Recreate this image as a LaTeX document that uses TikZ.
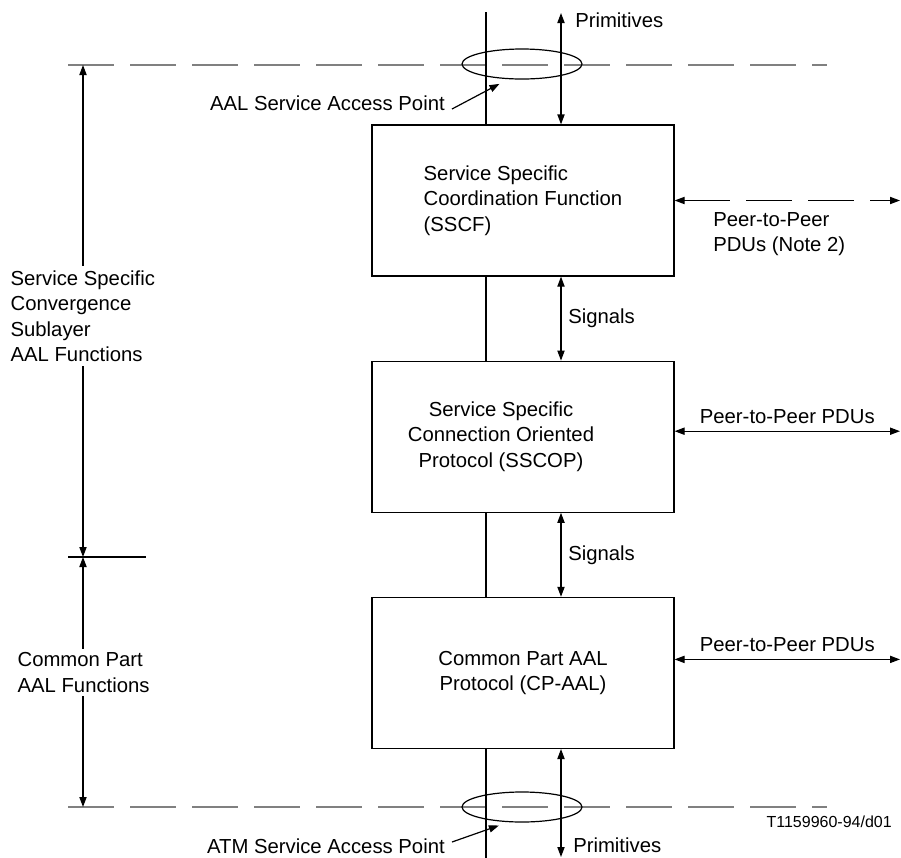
\documentclass[tikz,border=0pt]{standalone}
\usepackage{fontspec}
\setmainfont{Liberation Sans}
\usetikzlibrary{positioning, arrows.meta, shapes.geometric}

\begin{document}
\begin{tikzpicture}[x=0.5pt, y=-0.5pt, line width=0.6pt, node distance=42pt,
    >={Triangle[length=5pt, width=3.6pt]},
    every node/.style={font=\fontsize{10.15pt}{12.75pt}\selectfont},
    layerbox/.style={draw, minimum width=151pt, minimum height=75.5pt, inner sep=0pt},
    sapring/.style={draw, ellipse, minimum width=60pt, minimum height=15pt, inner sep=0pt},
    boundary/.style={draw=gray, line width=0.75pt, dash pattern=on 23pt off 8pt},
    sidelabel/.style={align=left, fill=white, inner xsep=0pt, inner ysep=2pt}]

    \useasboundingbox (0,0) rectangle (901,858);

    % 1. AAL boundaries
    \draw[boundary] (68,65) -- (827,65);
    \draw[boundary] (68,807) -- (827,807);

    % 2. Layer boxes: SSCF, SSCOP, CP-AAL
    \node[layerbox, align=left] (sscf) at (523,200.5) {Service Specific\\Coordination Function\\(SSCF)};
    \node[layerbox] (sscop) [below=of sscf] {};
    \node[align=center] (sscoptext) at ([xshift=-11pt]sscop.center) {Service Specific\\Connection Oriented\\Protocol (SSCOP)};
    \node[layerbox, align=center] (cpaal) [below=of sscop] {Common Part AAL\\Protocol (CP-AAL)};

    % 3. Vertical line through the boxes
    \coordinate (vtop) at (486,12);
    \coordinate (vbot) at (486,858);
    \draw (vtop) -- (vtop |- sscf.north);
    \draw (sscf.south -| vtop) -- (sscop.north -| vtop);
    \draw (sscop.south -| vtop) -- (cpaal.north -| vtop);
    \draw (cpaal.south -| vtop) -- (vbot);

    % 4. Service access points
    \node[sapring] (aalsap) at (522,64) {};
    \node[sapring] (atmsap) at (522,807) {};
    \node[anchor=east] (aaltext) at (452,103) {AAL Service Access Point};
    \node[anchor=east] (atmtext) at (452,846) {ATM Service Access Point};
    \draw[->, shorten >=5pt] ([yshift=-3pt]aaltext.east) -- (aalsap.228);
    \draw[->, shorten >=5pt] ([yshift=2pt]atmtext.east) -- (atmsap.228);

    % 5. Primitives and signals
    \coordinate (primtop) at (561,13);
    \coordinate (primbot) at (561,857);
    \draw[<->] (primtop) -- (primtop |- sscf.north);
    \draw[<->] (cpaal.south -| primbot) -- (primbot);
    \node[anchor=west] (primtoptext) at (568,20) {Primitives};
    \node[anchor=west] (primbottext) at (566,845) {Primitives};
    \draw[<->] (sscf.south -| primtop) -- (sscop.north -| primtop) node[midway, right] {Signals};
    \draw[<->] (sscop.south -| primtop) -- (cpaal.north -| primtop) node[midway, right] {Signals};

    % 6. Peer-to-peer PDUs
    \coordinate (peerend) at (900,0);
    \draw[<->, dash pattern=on 23pt off 8pt] (sscf.east) -- (sscf.east -| peerend);
    \node[anchor=north west, align=left] (note) at (706,205) {Peer-to-Peer\\PDUs (Note 2)};
    \draw[<->] ([yshift=2.75pt]sscop.east) -- ([yshift=2.75pt]sscop.east -| peerend)
        node[midway, above] {Peer-to-Peer PDUs};
    \draw[<->] ([yshift=6.75pt]cpaal.east) -- ([yshift=6.75pt]cpaal.east -| peerend)
        node[midway, above] {Peer-to-Peer PDUs};

    % 7. Sublayer extents on the left
    \coordinate (ssctop) at (83,65);
    \coordinate (split) at (83,557);
    \coordinate (cpbot) at (83,807);
    \coordinate (tickl) at (68,557);
    \coordinate (tickr) at (146,557);
    \draw (tickl) -- (tickr);
    \draw[<->] (ssctop) -- (split);
    \draw[<->] (split) -- (cpbot);
    \node[sidelabel, anchor=west] (ssclabel) at (10,316) {Service Specific\\Convergence\\Sublayer\\AAL Functions};
    \node[sidelabel, anchor=west] (cplabel) at (17,672.5) {Common Part\\AAL Functions};

    % 8. Figure number
    \node[anchor=east, font=\fontsize{8pt}{9.6pt}\selectfont] (figid) at (899,822) {T1159960-94/d01};
\end{tikzpicture}
\end{document}
